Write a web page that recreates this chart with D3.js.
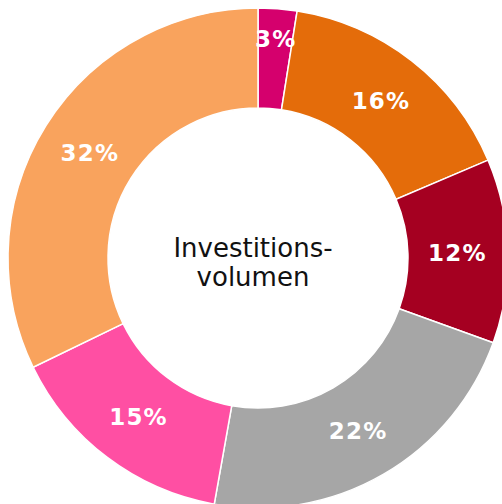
<!DOCTYPE html>
<html>
<head>
<meta charset="utf-8">
<script src="https://cdn.jsdelivr.net/npm/d3@7"></script>
<style>
  html, body { margin: 0; padding: 0; background: #ffffff; }
  svg { display: block; }
</style>
</head>
<body>
<svg id="chart" width="502" height="504"></svg>
<script>
// Data
const categories = ["A", "B", "C", "D", "E", "F"];
const values = [2.5, 16.1, 11.9, 22.3, 15.0, 32.2];
const labels = ["3%", "16%", "12%", "22%", "15%", "32%"];
const colors = ["#d5006d", "#e46c0a", "#a50021", "#a6a6a6", "#ff4fa3", "#f9a35d"];
const centerLines = ["Investitions-", "volumen"];

const svg = d3.select("#chart");
const cx = 258, cy = 258;
const outerR = 250, innerR = 150, labelR = 199;

const pie = d3.pie().sort(null).value(d => d.value);
const data = categories.map((c, i) => ({ cat: c, value: values[i], label: labels[i], color: colors[i] }));
const arcs = pie(data);

const arc = d3.arc().innerRadius(innerR).outerRadius(outerR);
const g = svg.append("g").attr("transform", `translate(${cx},${cy})`);

g.selectAll("path.slice")
  .data(arcs)
  .join("path")
  .attr("class", "slice")
  .attr("d", arc)
  .attr("fill", d => d.data.color)
  .attr("stroke", "#ffffff")
  .attr("stroke-width", 1.5);

function labelPos(d) {
  const share = (d.endAngle - d.startAngle) / (2 * Math.PI);
  const r = share < 0.05 ? 220 : labelR;
  const a = (d.startAngle + d.endAngle) / 2;
  return [r * Math.sin(a), -r * Math.cos(a)];
}

g.selectAll("text.lbl")
  .data(arcs)
  .join("text")
  .attr("class", "lbl")
  .attr("x", d => labelPos(d)[0] + 0.5)
  .attr("y", d => labelPos(d)[1])
  .attr("dy", "0.36em")
  .attr("text-anchor", "middle")
  .attr("font-family", "'DejaVu Sans', Verdana, sans-serif")
  .attr("font-weight", "bold")
  .attr("font-size", 23)
  .attr("letter-spacing", 1.2)
  .attr("fill", "#ffffff")
  .text(d => d.data.label);

const ct = svg.append("text")
  .attr("text-anchor", "middle")
  .attr("font-family", "'DejaVu Sans', Verdana, sans-serif")
  .attr("font-size", 26)
  .attr("fill", "#111111");
ct.selectAll("tspan")
  .data(centerLines)
  .join("tspan")
  .attr("x", 253)
  .attr("y", (d, i) => 256.5 + i * 29.5)
  .text(d => d);
</script>
</body>
</html>
